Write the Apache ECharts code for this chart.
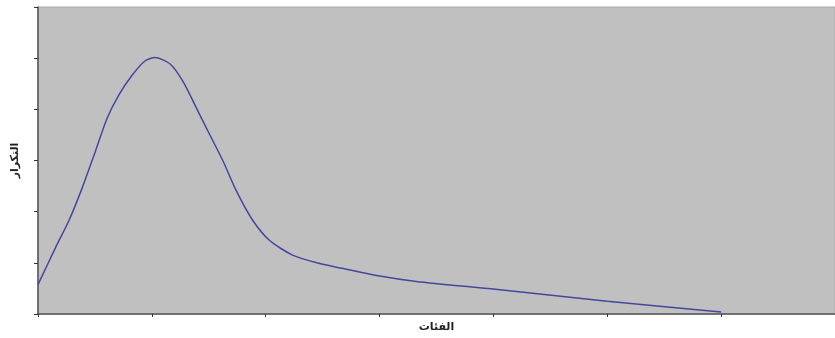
<!DOCTYPE html>
<html>
<head>
<meta charset="utf-8">
<script src="https://cdn.jsdelivr.net/npm/echarts@6/dist/echarts.min.js"></script>
<style>html,body{margin:0;padding:0;background:#fff;overflow:hidden}#c{width:835px;height:338px}</style>
</head>
<body>
<div id="c"></div>
<script>
const xValues = [0, 0.157, 0.272, 0.389, 0.504, 0.606, 0.707, 0.823, 0.939, 1.026, 1.163, 1.278, 1.394, 1.510, 1.626, 1.742, 1.887, 2.032, 2.235, 2.467, 2.670, 2.974, 3.322, 4.017, 5.0, 6.0];
const yValues = [0.573, 1.312, 1.827, 2.470, 3.178, 3.820, 4.270, 4.656, 4.945, 5.011, 4.881, 4.528, 4.013, 3.498, 2.985, 2.406, 1.827, 1.441, 1.152, 0.990, 0.893, 0.752, 0.637, 0.482, 0.251, 0.04];
const xAxisTitle = 'الفئات';
const yAxisTitle = 'التكرار';

const chart = echarts.init(document.getElementById('c'));
chart.setOption({
  animation: false,
  grid: {left: 38, top: 7, width: 805, bottom: 20, show: true, backgroundColor: '#c0c0c0', borderColor: '#a8a8a8', borderWidth: 1},
  xAxis: {
    type: 'value', min: 0, max: 7, interval: 1,
    name: xAxisTitle, nameLocation: 'middle', nameGap: 8,
    nameTextStyle: {fontFamily: 'DejaVu Sans', fontWeight: 'bold', fontSize: 11, color: '#222'},
    axisLine: {lineStyle: {color: '#555', width: 1.5}},
    axisTick: {show: true, length: 3, lineStyle: {color: '#333'}},
    axisLabel: {show: false}, splitLine: {show: false}
  },
  yAxis: {
    type: 'value', min: 0, max: 6, interval: 1,
    name: yAxisTitle, nameLocation: 'middle', nameGap: 17, nameRotate: 90,
    nameTextStyle: {fontFamily: 'DejaVu Sans', fontWeight: 'bold', fontSize: 11, color: '#222'},
    axisLine: {show: true, lineStyle: {color: '#555', width: 1.5}},
    axisTick: {show: true, length: 4, lineStyle: {color: '#333'}},
    axisLabel: {show: false}, splitLine: {show: false}
  },
  series: [{
    type: 'line', smooth: 0.25, showSymbol: false,
    data: xValues.map((x, i) => [x, yValues[i]]),
    lineStyle: {color: '#4646a0', width: 1.5}
  }]
});
</script>
</body>
</html>
